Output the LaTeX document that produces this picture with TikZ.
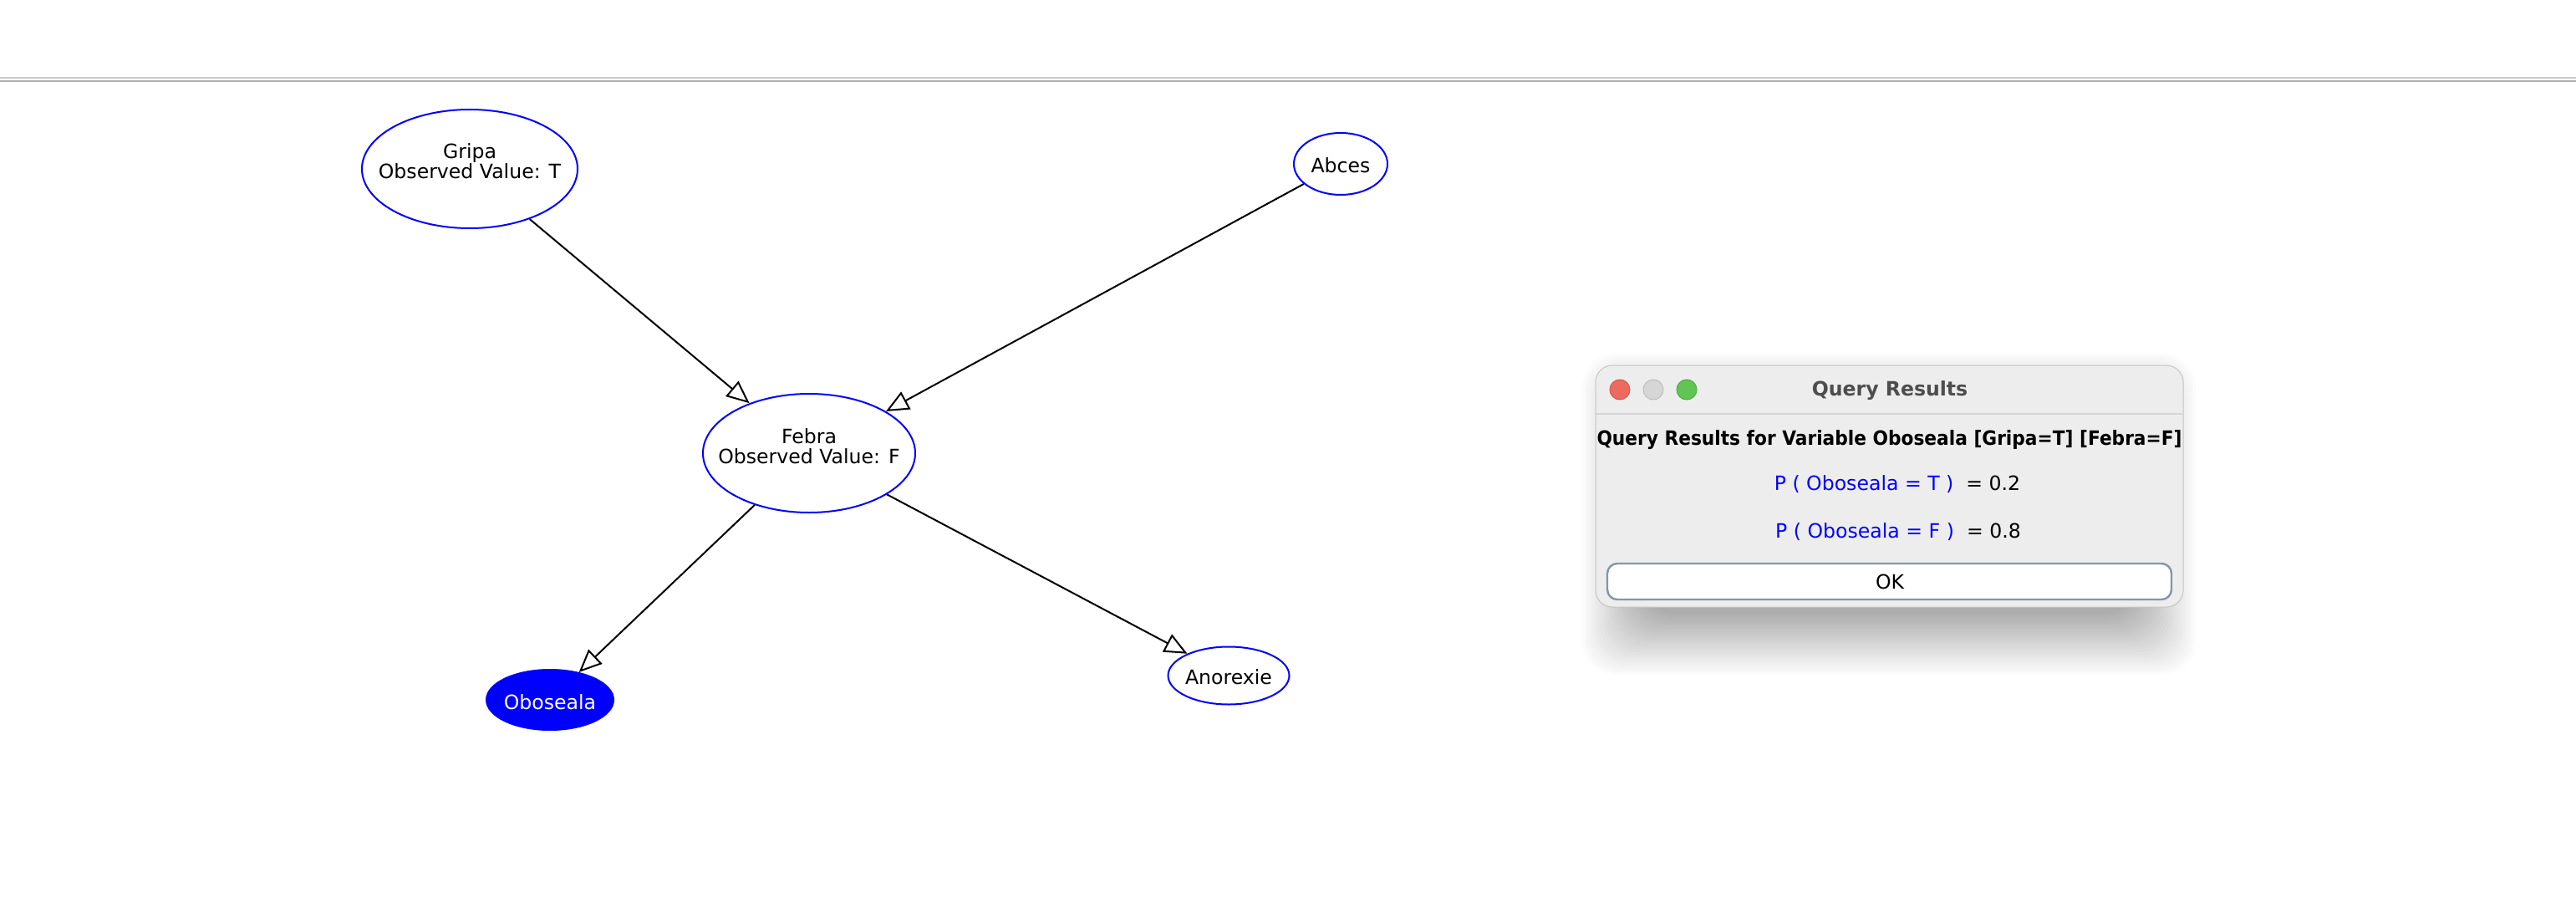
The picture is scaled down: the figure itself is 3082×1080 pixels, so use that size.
\documentclass[tikz,border=0pt]{standalone}
\usepackage{fontspec}
\setmainfont{DejaVu Sans}
\usepackage{graphicx}
\usetikzlibrary{arrows.meta,shapes.geometric}

\definecolor{rulelight}{HTML}{C8C8C8}
\definecolor{ruledark}{HTML}{B0B0B0}
\definecolor{dlgbg}{HTML}{EDEDED}
\definecolor{dlgborder}{HTML}{C4C4C4}
\definecolor{dlgsep}{HTML}{D6D6D6}
\definecolor{titlegray}{HTML}{4D4D4D}
\definecolor{closered}{HTML}{ED6A5E}
\definecolor{closeredline}{HTML}{D45A50}
\definecolor{minigray}{HTML}{D6D6D6}
\definecolor{minigrayline}{HTML}{BDBDBD}
\definecolor{zoomgreen}{HTML}{61C554}
\definecolor{zoomgreenline}{HTML}{52A846}
\definecolor{okborder}{HTML}{8494AB}

\begin{document}
\begin{tikzpicture}[x=0.25pt,y=-0.25pt,
  font=\fontsize{5.9}{6}\selectfont,
  var/.style={ellipse, draw=blue, line width=0.5pt, fill=white, inner sep=0pt},
  evidence/.style={var, fill=blue},
  lbl/.style={anchor=base, inner sep=0pt},
  edge/.style={draw=black, line width=0.5pt,
    -{Triangle[open, length=6.8pt, width=5.9pt]}},
  dot/.style={circle, inner sep=0pt, minimum size=6pt, line width=0.25pt}]

% canvas
\fill[white] (0,0) rectangle (3082,1080);
\useasboundingbox (0,0) rectangle (3082,1080);

% double rule under the toolbar
\draw[rulelight, line width=0.5pt] (0,93) -- (3082,93);
\draw[ruledark, line width=0.5pt] (0,97) -- (3082,97);

% network nodes
\node[var, minimum width=64.5pt, minimum height=35.5pt] (gripa) at (562,202) {};
\node[var, minimum width=63.5pt, minimum height=35.5pt] (febra) at (968,542) {};
\node[var, minimum width=28pt, minimum height=18.5pt] (abces) at (1604,196) {};
\node[evidence, minimum width=38pt, minimum height=18pt] (oboseala) at (658,837) {};
\node[var, minimum width=36.25pt, minimum height=17.25pt] (anorexie) at (1470,808) {};

% node captions
\node[lbl] (gripa-name) at (562,190) {Gripa};
\node[lbl] (gripa-obs) at (562,214) {Observed Value: T};
\node[lbl] (febra-name) at (968,530) {Febra};
\node[lbl] (febra-obs) at (968,554) {Observed Value: F};
\node[lbl] (abces-name) at (1604,207) {Abces};
\node[lbl, text=white] (oboseala-name) at (658,848) {Oboseala};
\node[lbl] (anorexie-name) at (1470,818) {Anorexie};

% arcs
\draw[edge] (gripa) -- (febra);
\draw[edge] (abces) -- (febra);
\draw[edge] (febra) -- (oboseala);
\draw[edge] (febra) -- (anorexie);

% soft drop shadow of the dialog: nested rings, lightest outside
\foreach \k in {25,24,...,0} {
  \pgfmathsetmacro\shade{32*(1-\k/25)}
  \fill[black!\shade, rounded corners=10pt]
    (1965-3*\k, 495-3*\k) rectangle (2555+3*\k, 735+3*\k);
}

% dialog window
\node[draw=dlgborder, fill=dlgbg, line width=0.25pt, rounded corners=5pt,
      inner sep=0pt, minimum width=175.75pt, minimum height=72.25pt]
  (dialog) at (2260.5,581.5) {};
\draw[dlgsep, line width=0.35pt] (1910,495) -- (2611,495);

% traffic-light buttons
\node[dot, fill=closered, draw=closeredline] (btn-close) at (1938,466) {};
\node[dot, fill=minigray, draw=minigrayline] (btn-min) at (1978,466) {};
\node[dot, fill=zoomgreen, draw=zoomgreenline] (btn-zoom) at (2018,466) {};

% dialog texts
\node[lbl, text=titlegray, font=\fontsize{5.9}{6}\selectfont\bfseries]
  (dlg-title) at (2261,473) {Query Results};
\node[lbl, font=\fontsize{5.9}{6}\selectfont\bfseries]
  (dlg-head) at (2260.5,532)
  {\scalebox{0.92}[1]{Query Results for Variable Oboseala [Gripa=T] [Febra=F]}};
\node[lbl] (p-true) at (2270,586)
  {\textcolor{blue}{P ( Oboseala = T )}\ \ = 0.2};
\node[lbl] (p-false) at (2271,643)
  {\textcolor{blue}{P ( Oboseala = F )}\ \ = 0.8};

% OK button
\node[draw=okborder, fill=white, line width=0.6pt, rounded corners=3pt,
      inner sep=0pt, minimum width=168.75pt, minimum height=10.75pt]
  (ok) at (2260.5,695.5) {};
\node[lbl] (ok-text) at (2261,704) {OK};

\end{tikzpicture}
\end{document}
